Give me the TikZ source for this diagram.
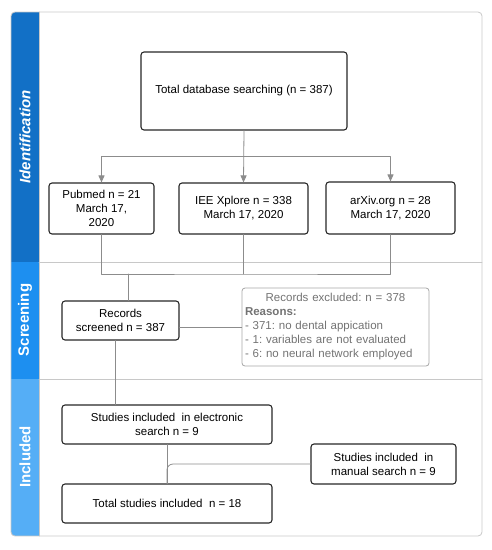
\documentclass[tikz,border=0pt]{standalone}
\usepackage{fontspec}
\setmainfont{Liberation Sans}
\usetikzlibrary{arrows.meta}
\definecolor{bandid}{HTML}{1270C6}
\definecolor{bandscr}{HTML}{1D8FF0}
\definecolor{bandinc}{HTML}{55AEF6}
\definecolor{linegray}{HTML}{8C8C8C}
\definecolor{framegray}{HTML}{C8C8C8}
\begin{document}
\frenchspacing
\begin{tikzpicture}[x=1pt, y=-1pt, >={Triangle[width=6pt,length=7pt]}, line join=round, line cap=round,
    font=\fontsize{11.5}{14}\selectfont,
    box/.style={draw=black!85, line width=1.1pt, rounded corners=3pt, align=center, inner sep=2pt},
    greybox/.style={draw=black!35, line width=0.8pt, rounded corners=3pt, text=black!55, inner sep=3pt},
    conn/.style={draw=linegray, line width=0.8pt},
    bandlabel/.style={rotate=90, text=white, font=\fontsize{15}{18}\selectfont\bfseries}]
    \useasboundingbox (0,0) rectangle (491,550);
    \def\xl{11} \def\xb{39} \def\xr{482}
    \def\ytop{12} \def\yone{262} \def\ytwo{379} \def\ybot{536}

    % bands
    \begin{scope}
        \clip[rounded corners=4pt] (\xl,\ytop) rectangle (\xr,\ybot);
        \fill[bandid] (\xl,\ytop) rectangle (\xb,\yone);
        \fill[bandscr] (\xl,\yone) rectangle (\xb,\ytwo);
        \fill[bandinc] (\xl,\ytwo) rectangle (\xb,\ybot);
    \end{scope}
    \draw[framegray, line width=0.8pt] (\xb,\yone) -- (\xr,\yone) (\xb,\ytwo) -- (\xr,\ytwo);
    \draw[framegray, line width=0.8pt, rounded corners=4pt] (\xl,\ytop) rectangle (\xr,\ybot);
    \draw[framegray, line width=0.6pt] (\xb,\ytop) -- (\xb,\ybot);

    \node[bandlabel] (lid) at (25,137) {\itshape Identification};
    \node[bandlabel] (lscr) at (25,320) {Screening};
    \node[bandlabel] (linc) at (25,457) {Included};

    % boxes
    \node[box, minimum width=206pt, minimum height=78pt] (total) at (244,91) {Total database searching (n = 387)};
    \node[box, minimum width=105pt, minimum height=51pt] (pubmed) at (101.5,208.5) {Pubmed n = 21\\March 17,\\2020};
    \node[box, minimum width=129pt, minimum height=51pt] (iee) at (243.5,208.5) {IEE Xplore n = 338\\March 17, 2020};
    \node[box, minimum width=129pt, minimum height=52pt] (arxiv) at (390.5,208) {arXiv.org n = 28\\March 17, 2020};
    \node[box, minimum width=117pt, minimum height=39pt] (records) at (120.5,320.5) {Records\\screened n = 387};
    \node[greybox, text width=181pt, minimum height=78pt] (excluded) at (335.5,327)
        {\centering Records excluded: n = 378\par\raggedright\textbf{Reasons:}\\- 371: no dental appication\\- 1: variables are not evaluated\\- 6: no neural network employed};
    \node[box, minimum width=210pt, minimum height=39pt] (electronic) at (167,424.5) {Studies included\ \ in electronic\\search n = 9};
    \node[box, minimum width=145pt, minimum height=40pt] (manual) at (383.5,464) {Studies included\ \ in\\manual search n = 9};
    \node[box, minimum width=210pt, minimum height=39pt] (totalinc) at (167,503.5) {Total studies included\ \ n = 18};

    % connectors
    \coordinate (split) at (244,156);
    \coordinate (merge) at (246,274);
    \coordinate (mergeleft) at (128,274);
    \draw[conn, ->] (total.south) -- (iee.north);
    \draw[conn, ->] (split) -| (pubmed.north);
    \draw[conn, ->] (split) -| (arxiv.north);
    \draw[conn] (pubmed.south) |- (merge) -| (arxiv.south);
    \draw[conn] (iee.south) -- (iee.south |- merge);
    \draw[conn] (mergeleft) -- (mergeleft |- records.north);
    \draw[conn] (excluded.west) -- (excluded.west -| records.east);
    \draw[conn] ([xshift=-5.5pt]records.south) -- ([xshift=-5.5pt]records.south |- electronic.north);
    \draw[conn] (electronic.south) -- (totalinc.north);
    \draw[conn, rounded corners=6pt] (manual.west) -| (totalinc.north);
\end{tikzpicture}
\end{document}
